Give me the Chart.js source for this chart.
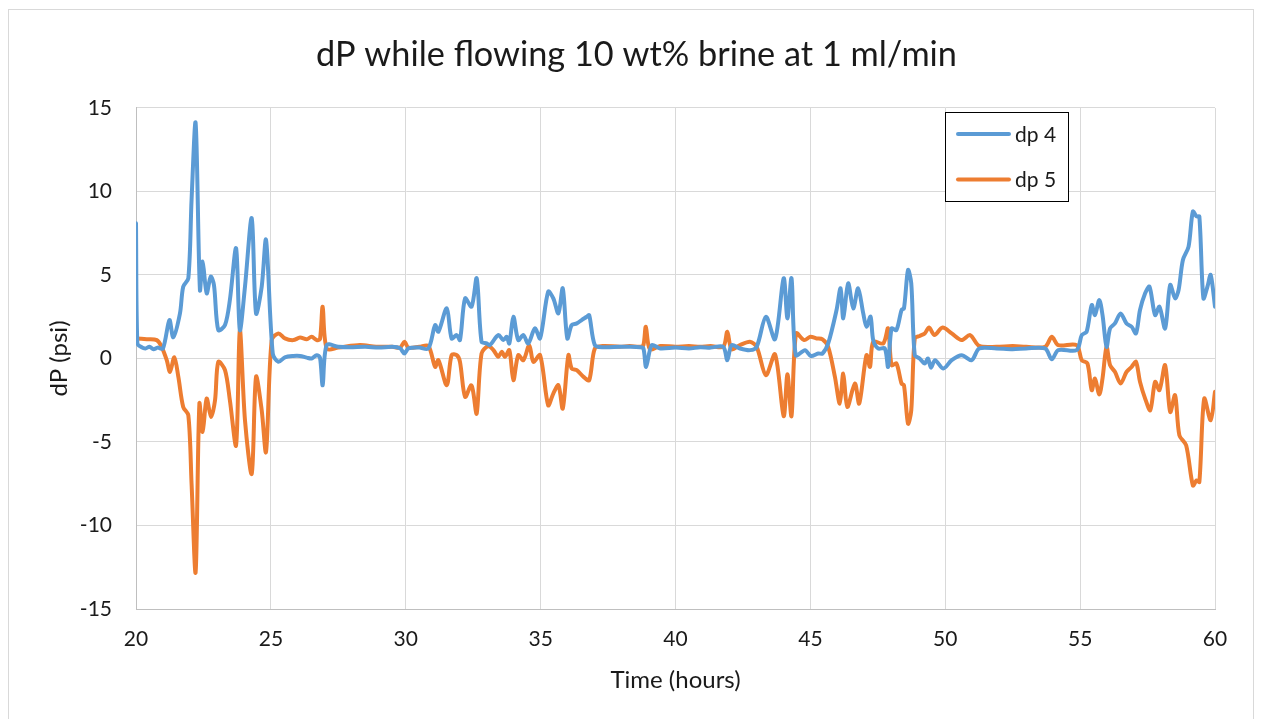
<!DOCTYPE html>
<html>
<head>
<meta charset="utf-8">
<script src="https://cdn.jsdelivr.net/npm/chart.js@4.4.0/dist/chart.umd.min.js"></script>
<style>
  html, body { margin: 0; padding: 0; background: #fff; }
  #wrap { position: absolute; left: 0; top: 0; width: 1263px; height: 719px; }
</style>
</head>
<body>
<div id="wrap"><canvas id="c" width="1263" height="719"></canvas></div>
<script>
// ---- DATA ----
const chartTitle = 'dP while flowing 10 wt% brine at 1 ml/min';
const xAxisTitle = 'Time (hours)';
const yAxisTitle = 'dP (psi)';
const seriesNames = ['dp 4', 'dp 5'];
const xTickValues = [20, 25, 30, 35, 40, 45, 50, 55, 60];
const yTickValues = [-15, -10, -5, 0, 5, 10, 15];

const t4 = [20.0, 20.05, 20.21, 20.35, 20.5, 20.65, 20.8, 21.0, 21.24, 21.38, 21.63, 21.75, 21.94, 22.06, 22.21, 22.37, 22.47, 22.62, 22.77, 22.89, 23.05, 23.3, 23.48, 23.71, 23.85, 24.04, 24.29, 24.45, 24.66, 24.82, 25.07, 25.28, 25.52, 25.83, 26.08, 26.33, 26.51, 26.7, 26.82, 26.92, 27.07, 27.5, 27.93, 28.5, 29.0, 29.5, 29.79, 29.95, 30.1, 30.5, 30.84, 31.09, 31.21, 31.52, 31.7, 31.89, 32.01, 32.2, 32.44, 32.63, 32.81, 33.0, 33.12, 33.43, 33.62, 33.74, 33.84, 33.99, 34.17, 34.36, 34.54, 34.79, 34.98, 35.28, 35.47, 35.66, 35.82, 35.99, 36.15, 36.34, 36.52, 36.71, 36.8, 37.01, 37.32, 37.94, 38.3, 38.68, 38.81, 38.91, 39.12, 39.43, 40.0, 40.5, 40.91, 41.3, 41.77, 41.92, 42.08, 42.39, 42.76, 43.01, 43.35, 43.69, 44.01, 44.15, 44.3, 44.46, 44.8, 45.02, 45.29, 45.45, 45.66, 45.97, 46.12, 46.22, 46.4, 46.59, 46.77, 46.96, 47.08, 47.23, 47.33, 47.51, 47.76, 47.88, 48.01, 48.19, 48.38, 48.47, 48.62, 48.74, 48.87, 49.05, 49.24, 49.36, 49.47, 49.62, 49.93, 50.24, 50.61, 50.98, 51.26, 51.9, 52.5, 53.0, 53.7, 53.95, 54.19, 54.87, 55.06, 55.24, 55.43, 55.55, 55.71, 55.83, 55.98, 56.11, 56.29, 56.5, 56.72, 56.91, 57.07, 57.22, 57.41, 57.57, 57.78, 57.94, 58.15, 58.34, 58.52, 58.65, 58.81, 59.02, 59.18, 59.32, 59.42, 59.57, 59.72, 59.84, 60.0];
const dp4 = [8.1, 0.91, 0.67, 0.6, 0.7, 0.55, 0.65, 0.6, 2.3, 1.27, 2.7, 4.3, 4.8, 9.5, 14.1, 4.1, 5.8, 3.9, 4.9, 4.4, 1.7, 2.0, 3.5, 6.6, 1.7, 4.3, 8.4, 2.7, 4.3, 7.1, 0.3, -0.2, 0.07, 0.15, 0.15, 0.05, 0.0, 0.2, 0.05, -1.6, 0.8, 0.7, 0.67, 0.7, 0.65, 0.7, 0.61, 0.3, 0.6, 0.65, 0.6, 2.0, 1.6, 3.0, 1.2, 1.4, 1.1, 3.6, 3.1, 4.8, 1.0, 0.9, 0.8, 1.4, 1.1, 1.3, 0.9, 2.5, 1.1, 1.4, 0.9, 1.8, 1.2, 4.0, 3.6, 2.7, 4.2, 1.2, 2.0, 2.1, 2.3, 2.5, 2.6, 0.8, 0.67, 0.7, 0.7, 0.67, 0.6, -0.5, 0.8, 0.6, 0.65, 0.6, 0.67, 0.65, 0.7, -0.1, 0.8, 0.6, 0.5, 0.7, 2.5, 1.15, 4.8, 2.4, 4.8, 0.2, 0.5, 0.15, 0.3, 0.3, 0.9, 2.9, 4.2, 2.4, 4.5, 3.0, 4.2, 2.7, 1.9, 2.5, 1.1, 0.6, 0.6, -0.5, 1.8, 1.7, 2.9, 3.0, 5.3, 4.5, 0.2, 0.0, -0.3, 0.0, -0.55, -0.1, -0.6, -0.1, 0.2, -0.1, 0.6, 0.6, 0.55, 0.6, 0.6, -0.05, 0.5, 0.5, 1.4, 1.6, 3.2, 2.6, 3.5, 2.6, 0.7, 1.8, 2.1, 2.7, 2.1, 1.9, 1.5, 2.9, 3.9, 4.3, 2.6, 3.1, 1.8, 4.4, 3.6, 4.1, 5.9, 6.7, 8.8, 8.5, 8.5, 3.6, 4.3, 5.0, 3.1];

const t5 = [20.0, 20.4, 20.77, 20.95, 21.14, 21.26, 21.42, 21.57, 21.75, 21.94, 22.06, 22.21, 22.35, 22.47, 22.62, 22.78, 22.93, 23.05, 23.3, 23.48, 23.71, 23.85, 24.04, 24.29, 24.45, 24.66, 24.82, 25.03, 25.28, 25.52, 25.83, 26.08, 26.33, 26.51, 26.7, 26.82, 26.92, 27.07, 27.5, 28.3, 28.9, 29.5, 29.79, 29.95, 30.1, 30.5, 30.84, 31.09, 31.21, 31.52, 31.7, 31.89, 32.01, 32.2, 32.42, 32.5, 32.63, 32.81, 33.06, 33.25, 33.43, 33.56, 33.68, 33.84, 33.99, 34.17, 34.36, 34.58, 34.73, 34.98, 35.28, 35.47, 35.66, 35.82, 36.03, 36.15, 36.34, 36.59, 36.8, 37.01, 37.32, 37.94, 38.3, 38.68, 38.81, 38.9, 39.05, 39.43, 40.0, 40.5, 40.91, 41.3, 41.77, 41.92, 42.08, 42.39, 42.76, 43.01, 43.35, 43.69, 44.01, 44.15, 44.3, 44.47, 44.77, 45.0, 45.23, 45.45, 45.66, 45.91, 46.09, 46.22, 46.37, 46.65, 46.81, 47.08, 47.21, 47.33, 47.7, 47.88, 48.01, 48.19, 48.38, 48.47, 48.62, 48.74, 48.87, 49.05, 49.24, 49.4, 49.6, 49.9, 50.24, 50.61, 50.92, 51.26, 51.9, 52.5, 53.0, 53.7, 53.95, 54.19, 54.87, 55.06, 55.27, 55.43, 55.55, 55.71, 55.83, 55.98, 56.11, 56.29, 56.5, 56.72, 56.91, 57.07, 57.22, 57.41, 57.6, 57.78, 57.94, 58.15, 58.34, 58.52, 58.68, 58.93, 59.18, 59.32, 59.42, 59.6, 59.84, 60.0];
const dp5 = [1.2, 1.15, 1.1, 0.7, -0.1, -0.8, 0.07, -1.1, -2.9, -3.4, -7.5, -12.8, -2.7, -4.4, -2.4, -3.5, -2.5, -0.2, -0.7, -2.5, -5.2, 1.7, -3.7, -6.9, -1.1, -3.1, -5.6, 1.1, 1.5, 1.2, 1.1, 1.25, 1.15, 1.3, 1.1, 1.15, 3.1, 0.6, 0.65, 0.8, 0.7, 0.7, 0.65, 1.0, 0.65, 0.7, 0.75, -0.5, -0.1, -1.6, 0.2, 0.2, -0.2, -2.3, -1.6, -2.0, -3.3, 0.3, 0.75, 0.5, 0.1, 0.4, 0.1, 0.5, -1.3, 0.2, -0.1, 0.8, -0.2, 0.2, -2.8, -2.1, -1.6, -3.0, 0.2, -0.6, -0.7, -1.1, -1.3, 0.6, 0.75, 0.7, 0.75, 0.7, 0.8, 1.9, 0.55, 0.75, 0.7, 0.75, 0.7, 0.75, 0.7, 1.6, 0.55, 0.8, 1.0, 0.7, -1.0, 0.25, -3.45, -0.95, -3.45, 1.5, 1.1, 1.3, 1.2, 1.15, 0.7, -1.1, -2.7, -0.9, -2.9, -1.5, -2.7, 0.2, -0.5, 1.0, 0.9, 1.8, -0.4, -0.3, -1.5, -1.6, -3.9, -3.1, 1.2, 1.35, 1.5, 1.85, 1.4, 1.85, 1.5, 1.1, 1.4, 0.75, 0.7, 0.75, 0.7, 0.7, 1.3, 0.8, 0.8, -0.1, -0.3, -1.9, -1.2, -2.15, -1.2, 0.7, -0.4, -0.8, -1.5, -0.8, -0.5, -0.2, -1.4, -2.4, -3.1, -1.4, -1.9, -0.4, -3.2, -2.2, -4.6, -5.2, -7.6, -7.3, -7.4, -2.4, -3.7, -2.0];

// ---- STYLE ----
const FONT = 'Lato, "Liberation Sans", sans-serif';
const TEXT = '#1a1a1a';
const colors = ['#5B9BD5', '#ED7D31'];

const toPoints = (xs, ys) => xs.map((x, i) => ({ x: x, y: ys[i] }));

const frame = {
  id: 'frame',
  beforeDraw(chart) {
    const ctx = chart.ctx;
    ctx.save();
    ctx.fillStyle = '#fff';
    ctx.fillRect(0, 0, chart.width, chart.height);
    ctx.strokeStyle = '#D9D9D9';
    ctx.lineWidth = 1;
    ctx.strokeRect(8.5, 9.5, 1245, 730);
    ctx.restore();
  }
};

const boxLegend = {
  id: 'boxLegend',
  afterDatasetsDraw(chart) {
    const ctx = chart.ctx;
    ctx.save();
    ctx.fillStyle = '#fff';
    ctx.fillRect(946, 113, 122, 88);
    ctx.strokeStyle = '#000';
    ctx.lineWidth = 1;
    ctx.strokeRect(945.5, 112.5, 123, 89);
    ctx.font = '21px ' + FONT;
    ctx.textBaseline = 'middle';
    ctx.textAlign = 'left';
    chart.data.datasets.forEach((ds, i) => {
      const y = 134 + i * 45.5;
      ctx.strokeStyle = ds.borderColor;
      ctx.lineWidth = 4;
      ctx.lineCap = 'round';
      ctx.beginPath();
      ctx.moveTo(958, y);
      ctx.lineTo(1009, y);
      ctx.stroke();
      ctx.fillStyle = TEXT;
      ctx.fillText(ds.label, 1015, y + 1);
    });
    ctx.restore();
  }
};

new Chart(document.getElementById('c'), {
  type: 'line',
  data: {
    datasets: [
      { label: seriesNames[0], data: toPoints(t4, dp4), borderColor: colors[0], backgroundColor: colors[0], yAxisID: 'y' },
      { label: seriesNames[1], data: toPoints(t5, dp5), borderColor: colors[1], backgroundColor: colors[1], yAxisID: 'y' }
    ]
  },
  options: {
    responsive: false,
    animation: false,
    devicePixelRatio: 1,
    layout: { padding: { left: 10, right: 0, top: 0, bottom: 0 } },
    elements: {
      point: { radius: 0 },
      line: { borderWidth: 4, tension: 0.3, borderCapStyle: 'round', borderJoinStyle: 'round' }
    },
    plugins: {
      legend: { display: false },
      tooltip: { enabled: false },
      title: {
        display: true,
        text: chartTitle,
        color: TEXT,
        font: { family: FONT, size: 34.3, weight: 'normal', lineHeight: 1.2 },
        padding: { top: 34.5, bottom: 32.3 }
      }
    },
    scales: {
      x: {
        type: 'linear',
        min: 20, max: 60,
        afterBuildTicks: s => { s.ticks = xTickValues.map(v => ({ value: v })); },
        afterFit: s => { s.height = 110; },
        grid: { color: '#D9D9D9', lineWidth: 1, drawTicks: false },
        border: { color: '#BFBFBF', width: 1 },
        ticks: { color: TEXT, font: { family: FONT, size: 21 }, padding: 18, maxRotation: 0 },
        title: { display: true, text: xAxisTitle, color: TEXT, font: { family: FONT, size: 24 }, padding: { top: 0, bottom: 24.6 } }
      },
      y: {
        type: 'linear',
        position: 'left',
        min: -15, max: 15,
        afterBuildTicks: s => { s.ticks = yTickValues.map(v => ({ value: v })); },
        afterFit: s => { s.width = 126; },
        grid: { color: '#D9D9D9', lineWidth: 1, drawTicks: false },
        border: { color: '#BFBFBF', width: 1 },
        ticks: { color: TEXT, font: { family: FONT, size: 21 }, padding: 24 },
        title: { display: true, text: yAxisTitle, color: TEXT, font: { family: FONT, size: 24 }, padding: { top: 34.6, bottom: 0 } }
      },
      rightSpace: {
        type: 'linear',
        position: 'right',
        min: -15, max: 15,
        afterFit: s => { s.width = 48; },
        grid: { display: false, drawTicks: false },
        border: { display: false },
        ticks: { display: false }
      }
    }
  },
  plugins: [frame, boxLegend]
});
</script>
</body>
</html>
